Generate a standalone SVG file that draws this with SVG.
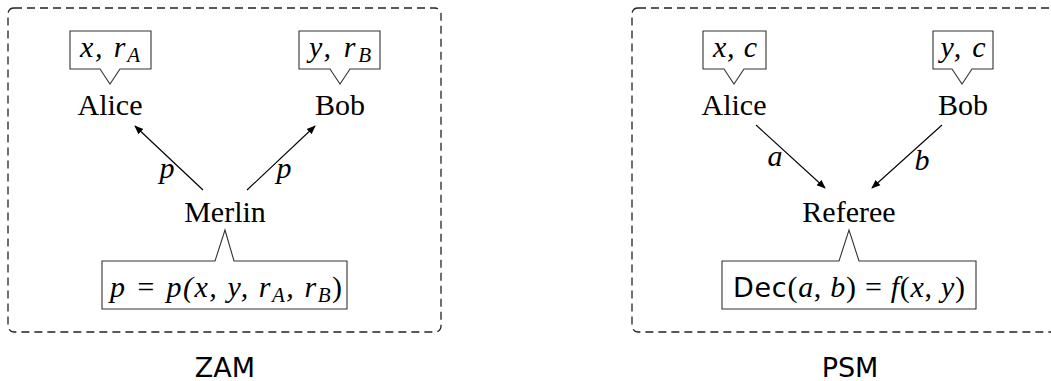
<svg xmlns="http://www.w3.org/2000/svg" width="1051" height="381" viewBox="0 0 1051 381">
<defs>
<style>
.panel{fill:none;stroke:#222;stroke-width:1.3;stroke-dasharray:8,5}
.call{fill:#fff;stroke:#333;stroke-width:1.1}
.rm{font-family:"Liberation Serif","DejaVu Serif",serif;font-size:30px;fill:#000;text-anchor:middle}
.it{font-style:italic}
.sub{font-size:21px}
.sf{font-family:"DejaVu Sans","Liberation Sans",sans-serif;font-style:normal}
.cap{font-family:"DejaVu Sans","Liberation Sans",sans-serif;font-size:27px;fill:#000;text-anchor:middle}
.edge{stroke:#000;stroke-width:1.1;fill:none;marker-end:url(#ah)}
</style>
<marker id="ah" viewBox="0 0 10 10" refX="9" refY="5" markerWidth="9" markerHeight="9" markerUnits="userSpaceOnUse" orient="auto">
<path d="M0,1 L10,5 L0,9 Z" fill="#000"/>
</marker>
</defs>
<rect class="panel" x="8" y="8" width="433" height="324" rx="6"/>
<rect class="panel" x="632" y="8" width="433" height="324" rx="6"/>
<g id="zam-alice">
<path class="call" d="M70,31 H151 V69 H120 L110,84 L100,69 H70 Z"/>
<text class="rm it" x="110" y="57" textLength="60" lengthAdjust="spacing">x, r<tspan class="sub" dy="5">A</tspan></text>
<text class="rm" x="110" y="115">Alice</text>
</g>
<g id="zam-bob">
<path class="call" d="M299,31 H380 V69 H350 L340,84 L330,69 H299 Z"/>
<text class="rm it" x="340" y="57" textLength="62" lengthAdjust="spacing">y, r<tspan class="sub" dy="5">B</tspan></text>
<text class="rm" x="340" y="115">Bob</text>
</g>
<g id="zam-merlin">
<path class="call" d="M102,261 H215 L225,230 L234,261 H347 V309 H102 Z"/>
<text class="rm" x="225" y="222">Merlin</text>
<text class="rm it" x="226" y="297" textLength="232" lengthAdjust="spacing">p = p(x, y, r<tspan class="sub" dy="5">A</tspan><tspan dy="-5">, r</tspan><tspan class="sub" dy="5">B</tspan><tspan dy="-5" font-style="normal">)</tspan></text>
</g>
<g id="psm-alice">
<path class="call" d="M703,31 H766 V69 H744 L734,84 L724,69 H703 Z"/>
<text class="rm it" x="735" y="57" textLength="44" lengthAdjust="spacing">x, c</text>
<text class="rm" x="734" y="115">Alice</text>
</g>
<g id="psm-bob">
<path class="call" d="M933,31 H993 V69 H972 L962,84 L952,69 H933 Z"/>
<text class="rm it" x="963" y="57" textLength="45" lengthAdjust="spacing">y, c</text>
<text class="rm" x="963" y="115">Bob</text>
</g>
<g id="psm-referee">
<path class="call" d="M722,261 H839 L849,230 L859,261 H976 V309 H722 Z"/>
<text class="rm" x="849" y="222">Referee</text>
<text class="rm" x="849" y="297" textLength="232" lengthAdjust="spacing"><tspan class="sf" font-size="27">Dec</tspan>(<tspan class="it">a</tspan>, <tspan class="it">b</tspan>) = <tspan class="it">f</tspan>(<tspan class="it">x</tspan>, <tspan class="it">y</tspan>)</text>
</g>
<g id="connectors">
<line class="edge" x1="203" y1="190" x2="135" y2="126"/>
<line class="edge" x1="247" y1="190" x2="315" y2="126"/>
<text class="rm it" x="167" y="178">p</text>
<text class="rm it" x="284" y="178">p</text>
<line class="edge" x1="756" y1="125" x2="825" y2="188"/>
<line class="edge" x1="942" y1="125" x2="872" y2="188"/>
<text class="rm it" x="775" y="166">a</text>
<text class="rm it" x="922" y="170">b</text>
</g>
<g id="labels">
<text class="cap" x="225" y="377">ZAM</text>
<text class="cap" x="850" y="377">PSM</text>
</g>
</svg>
